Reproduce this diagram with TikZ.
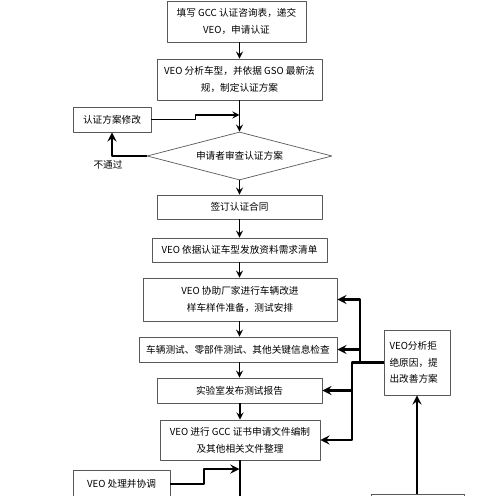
\documentclass[tikz,border=0pt]{standalone}
\usepackage{fontspec}
\setmainfont{Noto Sans CJK SC}
\usetikzlibrary{shapes.geometric}
\begin{document}
\begin{tikzpicture}[x=0.02cm,y=-0.02cm,>=stealth,font=\fontsize{5.5}{9.5}\selectfont,line join=round,
    box/.style={draw=black!65,align=center,inner sep=0pt},
    link/.style={->,line width=.8pt},
    side/.style={->,line width=1.3pt}]
    \useasboundingbox (0,0) rectangle (500,496);
    \clip (0,0) rectangle (500,496);
    \node[box,minimum width=2.78cm,minimum height=.82cm] (fill) at (236.5,21.5) {填写 GCC 认证咨询表，递交\\VEO，申请认证};
    \node[box,minimum width=3.3cm,minimum height=.82cm] (plan) at (239.5,79.5) {VEO 分析车型，并依据 GSO 最新法\\规，制定认证方案};
    \node[box,minimum width=1.56cm,minimum height=.5cm] (revise) at (112,119.5) {认证方案修改};
    \node[box,diamond,shape aspect=3.85,minimum width=3.7cm,minimum height=.96cm] (review) at (239.5,156) {申请者审查认证方案};
    \node (fail) at (108,165) {不通过};
    \node[box,minimum width=3.3cm,minimum height=.48cm] (sign) at (239.5,207) {签订认证合同};
    \node[box,minimum width=3.5cm,minimum height=.48cm] (list) at (239.5,250) {VEO 依据认证车型发放资料需求清单};
    \node[box,minimum width=3.88cm,minimum height=.86cm] (prep) at (240,299.5) {VEO 协助厂家进行车辆改进\\样车样件准备，测试安排};
    \node[box,minimum width=3.96cm,minimum height=.5cm] (test) at (238,349.5) {车辆测试、零部件测试、其他关键信息检查};
    \node[box,minimum width=3.3cm,minimum height=.5cm] (report) at (239.5,390.5) {实验室发布测试报告};
    \node[box,minimum width=3.2cm,minimum height=.8cm] (docs) at (240,440) {VEO 进行 GCC 证书申请文件编制\\及其他相关文件整理};
    \node[box,minimum width=1.94cm,minimum height=.56cm] (coord) at (121.5,484) {VEO 处理并协调};
    \node[box,align=left,text width=1.1cm,minimum width=1.32cm,minimum height=1.3cm] (reject) at (417,362.5) {VEO分析拒\\绝原因，提\\出改善方案};
    \node[box,minimum width=1.86cm,minimum height=.32cm] (next) at (417.5,502) {};
    \coordinate (m1) at (239.5,115);
    \coordinate (m2) at (239.5,469);
    \coordinate (j1) at (352,362.5);
    \coordinate (j2) at (360,362.5);
    \draw[link] (fill.south -| plan.north) -- (plan.north);
    \draw[link] (plan.south) -- (review.north);
    \draw[side] (review.west) -| (revise.south);
    \draw[link] (revise.east) -- ++(44,0) |- (m1);
    \draw[link] (review.south) -- (sign.north);
    \draw[link] (sign.south) -- (list.north);
    \draw[link] (list.south) -- (prep.north -| list.south);
    \draw[link] (prep.south -| list.south) -- (test.north -| list.south);
    \draw[link] (test.south -| report.north) -- (report.north);
    \draw[link] (report.south -| docs.north) -- (docs.north);
    \draw[line width=1pt] (docs.south) -- ++(0,40);
    \draw[side] (coord.east) -- ++(34,0) |- (m2);
    \draw[side] (next.north -| reject.south) -- (reject.south);
    \draw[side] (reject.west) -- (j1) |- (docs.east);
    \draw[side] (j1) |- (report.east);
    \draw[side] (j2) |- (prep.east);
    \draw[side] (j2) |- (test.east);
\end{tikzpicture}
\end{document}
